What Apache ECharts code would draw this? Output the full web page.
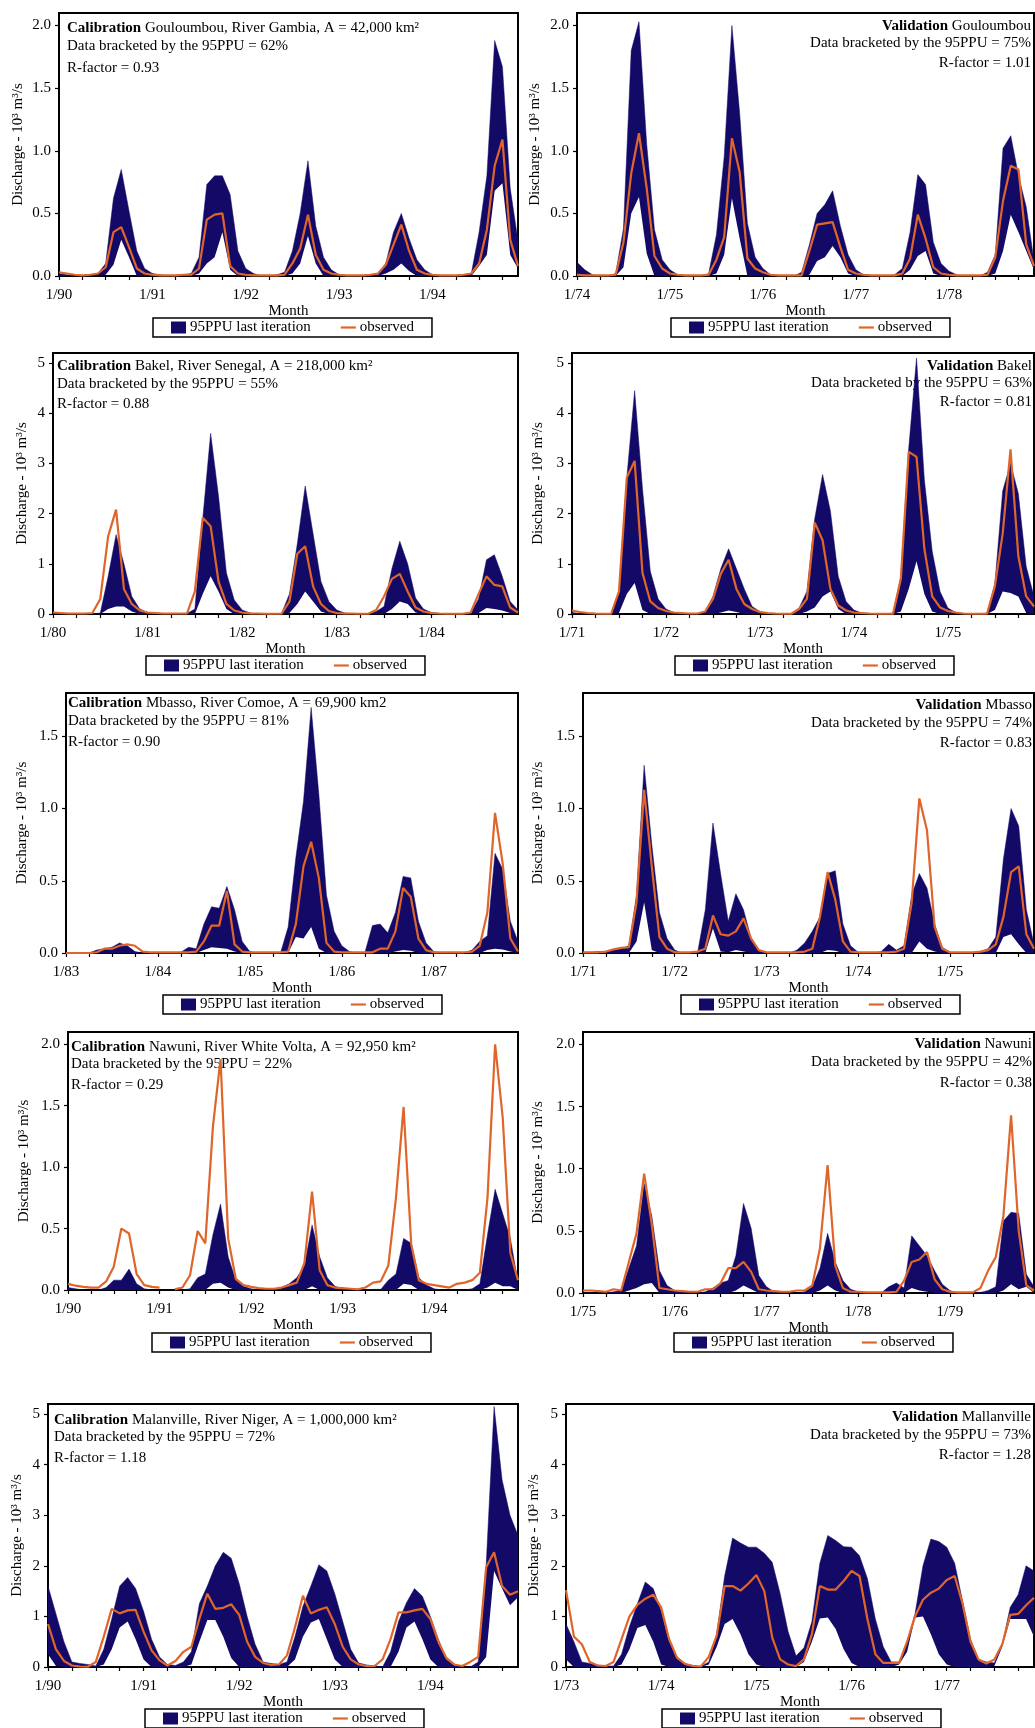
<!DOCTYPE html>
<html>
<head>
<meta charset="utf-8">
<script src="https://cdn.jsdelivr.net/npm/echarts@6/dist/echarts.min.js"></script>
<style>
  html, body { margin: 0; padding: 0; background: #fff; }
  #chart { width: 1035px; height: 1728px; }
</style>
</head>
<body>
<div id="chart"></div>
<script>
// monthly discharge, 10^3 m3/s, 60 months per panel
// Gouloumbou, River Gambia
const gouCalObs = [0.03,0.02,0.01,0.005,0.01,0.02,0.07,0.35,0.39,0.23,0.06,0.02,
  0.01,0.005,0.005,0.005,0.01,0.01,0.06,0.45,0.49,0.50,0.08,0.02,
  0.01,0.005,0.005,0.005,0.005,0.01,0.10,0.22,0.49,0.17,0.05,0.02,
  0.01,0.005,0.005,0.005,0.01,0.02,0.09,0.25,0.41,0.20,0.05,0.02,
  0.01,0.005,0.005,0.005,0.01,0.02,0.10,0.37,0.88,1.09,0.29,0.08]
const gouCalUp = [0.02,0.01,0,0,0.01,0.02,0.10,0.62,0.85,0.52,0.20,0.06,
  0.02,0.01,0,0,0.01,0.02,0.15,0.73,0.80,0.80,0.65,0.20,
  0.06,0.02,0,0,0.01,0.03,0.20,0.50,0.92,0.40,0.15,0.05,
  0.01,0,0,0,0.01,0.01,0.10,0.35,0.50,0.30,0.13,0.05,
  0.01,0,0,0,0.01,0.02,0.35,0.80,1.88,1.67,0.70,0.28]
const gouCalLo = [0,0,0,0,0,0,0.01,0.09,0.29,0.15,0,0,
  0,0,0,0,0,0,0.02,0.10,0.15,0.35,0.05,0,
  0,0,0,0,0,0,0.02,0.10,0.32,0.10,0,0,
  0,0,0,0,0,0,0.02,0.05,0.10,0.04,0,0,
  0,0,0,0,0,0,0.08,0.17,0.68,0.74,0.17,0.06]
const gouValObs = [0.01,0.005,0.005,0.005,0.005,0.01,0.27,0.82,1.14,0.70,0.16,0.06,
  0.02,0.01,0.005,0.005,0.005,0.01,0.13,0.31,1.10,0.83,0.14,0.06,
  0.03,0.01,0.005,0.005,0.005,0.005,0.20,0.41,0.42,0.43,0.23,0.05,
  0.02,0.01,0.005,0.005,0.005,0.005,0.02,0.14,0.49,0.30,0.07,0.02,
  0.01,0.005,0.005,0.005,0.005,0.01,0.15,0.60,0.88,0.85,0.25,0.08]
const gouValUp = [0.11,0.05,0.01,0,0,0.02,0.38,1.80,2.03,1.05,0.37,0.13,
  0.05,0.01,0,0,0,0.02,0.33,0.95,2.00,1.30,0.42,0.15,
  0.06,0.01,0,0,0,0.03,0.25,0.50,0.57,0.68,0.40,0.17,
  0.05,0.01,0,0,0,0.01,0.06,0.35,0.81,0.73,0.27,0.10,
  0.04,0.01,0,0,0,0.03,0.17,1.02,1.12,0.80,0.55,0.12]
const gouValLo = [0,0,0,0,0,0,0.07,0.50,0.63,0.18,0,0,
  0,0,0,0,0,0,0.02,0.17,0.62,0.30,0,0,
  0,0,0,0,0,0,0.01,0.12,0.15,0.24,0.15,0.02,
  0,0,0,0,0,0,0,0.05,0.16,0.20,0.02,0,
  0,0,0,0,0,0,0.02,0.20,0.49,0.35,0.20,0.05]

// Bakel, River Senegal
const bakCalObs = [0.03,0.02,0.01,0.01,0.01,0.02,0.30,1.55,2.08,0.50,0.20,0.07,
  0.03,0.02,0.01,0.01,0.01,0.01,0.45,1.92,1.75,0.65,0.20,0.07,
  0.03,0.01,0.01,0.005,0.005,0.005,0.25,1.20,1.35,0.55,0.20,0.06,
  0.02,0.01,0.01,0.005,0.005,0.08,0.35,0.70,0.80,0.45,0.13,0.05,
  0.02,0.01,0.005,0.005,0.005,0.03,0.40,0.75,0.58,0.55,0.13,0.03]
const bakCalUp = [0.01,0,0,0,0,0,0.02,0.75,1.58,1.00,0.35,0.10,
  0.03,0.01,0,0,0,0.01,0.10,1.90,3.60,2.35,0.82,0.28,
  0.08,0.02,0,0,0,0.01,0.40,1.40,2.55,1.60,0.65,0.25,
  0.08,0.02,0,0,0,0.05,0.15,0.90,1.45,1.00,0.32,0.10,
  0.03,0.01,0,0,0,0.02,0.30,1.08,1.18,0.75,0.25,0.08]
const bakCalLo = [0,0,0,0,0,0,0,0.10,0.15,0.15,0.05,0,
  0,0,0,0,0,0,0,0.40,0.75,0.45,0.10,0,
  0,0,0,0,0,0,0.02,0.20,0.45,0.25,0.05,0,
  0,0,0,0,0,0,0,0.10,0.25,0.20,0.03,0,
  0,0,0,0,0,0,0.02,0.12,0.10,0.07,0.02,0]
const bakValObs = [0.07,0.04,0.02,0.01,0.005,0.005,0.45,2.72,3.05,0.82,0.25,0.12,
  0.06,0.03,0.02,0.01,0.01,0.05,0.30,0.80,1.08,0.50,0.20,0.10,
  0.04,0.02,0.01,0.005,0.005,0.10,0.30,1.82,1.47,0.50,0.17,0.07,
  0.03,0.02,0.01,0.005,0.005,0.005,0.70,3.23,3.13,1.30,0.35,0.13,
  0.06,0.03,0.01,0.005,0.005,0.005,0.55,1.60,3.28,1.15,0.35,0.15]
const bakValUp = [0.03,0.01,0,0,0,0.01,0.45,2.72,4.45,2.50,0.85,0.30,
  0.10,0.03,0,0,0,0.05,0.35,0.90,1.30,0.90,0.50,0.15,
  0.05,0.01,0,0,0,0.12,0.45,1.90,2.78,2.05,0.75,0.25,
  0.08,0.02,0,0,0,0.02,0.75,3.30,5.10,2.67,1.25,0.45,
  0.12,0.03,0,0,0,0.02,0.60,2.45,3.00,2.40,0.95,0.35]
const bakValLo = [0,0,0,0,0,0,0.02,0.40,0.62,0.08,0,0,
  0,0,0,0,0,0,0,0.03,0.07,0.04,0,0,
  0,0,0,0,0,0,0.05,0.13,0.35,0.45,0.10,0,
  0,0,0,0,0,0,0.05,0.50,1.05,0.40,0.05,0,
  0,0,0,0,0,0,0.08,0.45,0.42,0.35,0.02,0]

// Mbasso, River Comoe
const mbaCalObs = [0,0,0,0,0.005,0.03,0.03,0.05,0.06,0.05,0.01,0.005,
  0.005,0.005,0.005,0.005,0.005,0.01,0.08,0.19,0.19,0.43,0.06,0.01,
  0.005,0.005,0.005,0.005,0.005,0.01,0.20,0.60,0.77,0.52,0.07,0.01,
  0.005,0.005,0.005,0.005,0.005,0.03,0.03,0.15,0.45,0.39,0.10,0.02,
  0.005,0.005,0.005,0.005,0.005,0.01,0.05,0.28,0.97,0.62,0.10,0.01]
const mbaCalUp = [0,0,0,0,0.02,0.03,0.04,0.07,0.05,0.01,0,0,
  0,0,0,0.005,0.04,0.03,0.20,0.32,0.31,0.46,0.30,0.08,
  0.01,0,0,0,0,0.18,0.66,1.05,1.70,1.10,0.40,0.15,
  0.05,0.01,0,0,0.19,0.20,0.14,0.28,0.53,0.52,0.22,0.07,
  0.01,0,0,0,0,0.02,0.08,0.12,0.69,0.58,0.22,0.08]
const mbaCalLo = [0,0,0,0,0,0,0,0,0,0,0,0,
  0,0,0,0,0,0,0.02,0.04,0.035,0.03,0.01,0,
  0,0,0,0,0,0,0.11,0.10,0.18,0.03,0,0,
  0,0,0,0,0,0,0,0.01,0.02,0.015,0,0,
  0,0,0,0,0,0,0,0.02,0.03,0.025,0.01,0]
const mbaValObs = [0.005,0.005,0.005,0.01,0.025,0.035,0.04,0.35,1.13,0.60,0.11,0.03,
  0.005,0.005,0.005,0.01,0.03,0.26,0.13,0.12,0.15,0.24,0.10,0.02,
  0.005,0.005,0.005,0.005,0.005,0.01,0.03,0.25,0.56,0.37,0.08,0.01,
  0.005,0.005,0.005,0.005,0.005,0.01,0.03,0.35,1.07,0.85,0.18,0.03,
  0.005,0.005,0.005,0.005,0.01,0.02,0.06,0.25,0.56,0.60,0.13,0.03]
const mbaValUp = [0.005,0.005,0.01,0.01,0.02,0.03,0.05,0.40,1.30,0.75,0.28,0.10,
  0.02,0,0,0.005,0.30,0.90,0.55,0.22,0.41,0.30,0.10,0.02,
  0,0,0,0,0.02,0.07,0.15,0.25,0.55,0.57,0.20,0.05,
  0.005,0,0,0.01,0.06,0.02,0.05,0.40,0.55,0.45,0.20,0.04,
  0.005,0,0,0,0.01,0.03,0.11,0.65,1.00,0.88,0.30,0.06]
const mbaValLo = [0,0,0,0,0,0,0,0.08,0.35,0.02,0,0,
  0,0,0,0,0,0.17,0.01,0.005,0.02,0.01,0,0,
  0,0,0,0,0,0,0,0,0.02,0.015,0,0,
  0,0,0,0,0,0,0,0,0.08,0.03,0.01,0,
  0,0,0,0,0,0,0,0.11,0.13,0.06,0,0]

// Nawuni, River White Volta
const nawCalObs = [0.05,0.035,0.025,0.02,0.02,0.07,0.19,0.50,0.46,0.13,0.04,0.025,
  0.02,null,0.005,0.02,0.12,0.48,0.38,1.33,1.88,0.42,0.09,0.04,
  0.025,0.015,0.01,0.01,0.02,0.04,0.06,0.22,0.80,0.16,0.04,0.02,
  0.015,0.01,0.005,0.02,0.06,0.07,0.20,0.75,1.49,0.37,0.08,0.05,
  0.04,0.03,0.02,0.05,0.06,0.08,0.14,0.75,2.00,1.40,0.30,0.08]
const nawCalUp = [0.02,0.01,0,0,0,0.02,0.08,0.08,0.17,0.05,0.01,0,
  0,0,0,0,0.01,0.10,0.13,0.45,0.70,0.27,0.08,0.03,
  0.01,0,0,0,0.02,0.05,0.10,0.20,0.53,0.27,0.10,0.03,
  0.01,0,0,0,0.005,0.005,0.08,0.13,0.42,0.38,0.10,0.04,
  0.01,0,0,0,0,0.01,0.05,0.45,0.82,0.62,0.42,0.06]
const nawCalLo = [0,0,0,0,0,0,0,0,0,0,0,0,
  0,0,0,0,0,0,0,0.05,0.06,0.02,0,0,
  0,0,0,0,0,0,0,0,0.03,0,0,0,
  0,0,0,0,0,0,0,0,0.05,0.04,0,0,
  0,0,0,0,0,0,0,0.02,0.06,0.03,0.03,0]
const nawValObs = [0.02,0.02,0.015,0.01,0.03,0.02,0.25,0.48,0.96,0.55,0.04,0.03,
  0.02,0.015,0.01,0.01,0.03,0.03,0.08,0.20,0.20,0.25,0.17,0.03,
  0.02,0.015,0.01,0.01,0.02,0.02,0.06,0.36,1.03,0.22,0.04,0.01,
  0.01,0.005,0.005,0.005,0.005,0.01,0.10,0.25,0.27,0.33,0.11,0.03,
  0.01,0.005,0.005,0.005,0.04,0.18,0.29,0.62,1.43,0.50,0.06,0.02]
const nawValUp = [0,0,0,0,0.01,0.02,0.20,0.38,0.88,0.62,0.18,0.06,
  0.02,0.01,0,0,0.01,0.04,0.08,0.10,0.30,0.72,0.52,0.14,
  0.05,0.01,0,0,0,0.01,0.05,0.20,0.48,0.25,0.10,0.03,
  0.01,0,0,0,0.05,0.08,0.04,0.46,0.38,0.30,0.18,0.07,
  0.02,0,0,0,0.005,0.02,0.05,0.58,0.65,0.64,0.15,0.05]
const nawValLo = [0,0,0,0,0,0,0.02,0.04,0.07,0.08,0,0,
  0,0,0,0,0,0,0,0,0.02,0.06,0.03,0,
  0,0,0,0,0,0,0,0.02,0.06,0.02,0,0,
  0,0,0,0,0,0,0,0.04,0.02,0.01,0,0,
  0,0,0,0,0,0,0,0.02,0.07,0.03,0.05,0]

// Malanville, River Niger
const malCalObs = [0.85,0.35,0.12,0.03,0.01,0.005,0.10,0.60,1.15,1.06,1.12,1.13,
  0.70,0.33,0.13,0.03,0.12,0.30,0.40,0.95,1.45,1.15,1.17,1.24,
  1.03,0.50,0.20,0.08,0.04,0.05,0.23,0.78,1.41,1.06,1.13,1.18,
  0.85,0.40,0.15,0.05,0.02,0.02,0.15,0.55,1.08,1.08,1.12,1.15,
  0.95,0.50,0.18,0.05,0.02,0.10,0.20,1.97,2.27,1.60,1.43,1.50]
const malCalUp = [1.60,1.05,0.50,0.10,0.07,0.05,0.02,0.35,0.95,1.60,1.77,1.55,
  1.10,0.55,0.20,0.05,0.03,0.10,0.30,1.25,1.60,2.00,2.27,2.15,
  1.65,1.00,0.45,0.10,0.07,0.05,0.10,0.60,1.20,1.60,2.02,1.90,
  1.45,0.90,0.35,0.08,0.04,0.02,0,0.30,0.90,1.27,1.55,1.40,
  1.00,0.55,0.15,0.03,0,0,0.10,2.00,5.15,3.70,3.00,2.60]
const malCalLo = [0.25,0.02,0,0,0,0,0,0.05,0.35,0.78,0.90,0.55,
  0.15,0,0,0,0,0,0.05,0.50,0.93,0.93,0.60,0.18,
  0,0,0,0,0,0,0,0.15,0.60,0.88,0.95,0.55,
  0.15,0,0,0,0,0,0,0,0.30,0.78,0.90,0.55,
  0.15,0,0,0,0,0,0,0.20,1.90,1.55,1.22,1.38]
const malValObs = [1.52,0.60,0.45,0.10,0.03,0.02,0.10,0.55,1.00,1.23,1.35,1.43,
  1.18,0.55,0.18,0.06,0.02,0.01,0.20,0.62,1.60,1.60,1.51,1.65,
  1.82,1.50,0.58,0.15,0.05,0.02,0.15,0.65,1.60,1.53,1.53,1.70,
  1.90,1.80,0.95,0.25,0.08,0.08,0.08,0.50,1.00,1.33,1.47,1.55,
  1.72,1.80,1.25,0.50,0.15,0.07,0.15,0.45,1.03,1.05,1.22,1.37]
const malValUp = [0.85,0.50,0.10,0.07,0.04,0.02,0.02,0.25,0.80,1.25,1.68,1.55,
  1.10,0.50,0.20,0.07,0.03,0.01,0.10,0.65,1.80,2.55,2.45,2.37,
  2.37,2.25,2.07,1.45,0.70,0.22,0.38,0.90,2.05,2.60,2.50,2.38,
  2.37,2.20,1.75,0.95,0.40,0.10,0.10,0.50,1.05,2.00,2.53,2.48,
  2.37,2.05,1.30,0.55,0.15,0.10,0.08,0.45,1.18,1.43,2.00,1.90]
const malValLo = [0.15,0,0,0,0,0,0,0.05,0.35,0.77,0.83,0.50,
  0.05,0,0,0,0,0,0.05,0.40,0.85,0.95,0.65,0.25,
  0.05,0,0,0,0,0,0.10,0.50,0.96,0.98,0.75,0.35,
  0.08,0,0,0,0,0,0.05,0.30,0.98,1.00,0.65,0.25,
  0.05,0,0,0,0,0,0.02,0.40,0.95,0.95,0.95,0.60]

// first year of each panel (x axis runs 1/yy .. 12/yy+4)
const startYears = [90, 74, 80, 71, 83, 71, 90, 75, 90, 73]

const annotations = [
  ['{b|Calibration} Gouloumbou, River Gambia, A = 42,000 km²', 'Data bracketed by the 95PPU = 62%', 'R-factor = 0.93'],
  ['{b|Validation} Gouloumbou', 'Data bracketed by the 95PPU = 75%', 'R-factor = 1.01'],
  ['{b|Calibration} Bakel, River Senegal, A = 218,000 km²', 'Data bracketed by the 95PPU = 55%', 'R-factor = 0.88'],
  ['{b|Validation} Bakel', 'Data bracketed by the 95PPU = 63%', 'R-factor = 0.81'],
  ['{b|Calibration} Mbasso, River Comoe, A = 69,900 km2', 'Data bracketed by the 95PPU = 81%', 'R-factor = 0.90'],
  ['{b|Validation} Mbasso', 'Data bracketed by the 95PPU = 74%', 'R-factor = 0.83'],
  ['{b|Calibration} Nawuni, River White Volta, A = 92,950 km²', 'Data bracketed by the 95PPU = 22%', 'R-factor = 0.29'],
  ['{b|Validation} Nawuni', 'Data bracketed by the 95PPU = 42%', 'R-factor = 0.38'],
  ['{b|Calibration} Malanville, River Niger, A = 1,000,000 km²', 'Data bracketed by the 95PPU = 72%', 'R-factor = 1.18'],
  ['{b|Validation} Mallanville', 'Data bracketed by the 95PPU = 73%', 'R-factor = 1.28'],
]

const BAND = '#130a68'
const OBS = '#e0652a'
const FONT = 'Liberation Serif'
const FS = 15

// layout of the 10 panels (pixels)
const panels = [
  { obs: gouCalObs, up: gouCalUp, lo: gouCalLo, yMax: 2.1, step: 0.5, dig: 1,
    grid: [59, 13, 459, 263], nameGap: 33, tx: 67, ty: [28, 46, 68], leg: [153, 318] },
  { obs: gouValObs, up: gouValUp, lo: gouValLo, yMax: 2.1, step: 0.5, dig: 1,
    grid: [577, 13, 457, 263], nameGap: 34, tx: 1031, ty: [26, 43, 63], leg: [671, 318] },
  { obs: bakCalObs, up: bakCalUp, lo: bakCalLo, yMax: 5.2, step: 1, dig: 0,
    grid: [53, 353, 465, 261], nameGap: 23, tx: 57, ty: [366, 384, 404], leg: [146, 656] },
  { obs: bakValObs, up: bakValUp, lo: bakValLo, yMax: 5.2, step: 1, dig: 0,
    grid: [572, 353, 462, 261], nameGap: 26, tx: 1032, ty: [366, 383, 402], leg: [675, 656] },
  { obs: mbaCalObs, up: mbaCalUp, lo: mbaCalLo, yMax: 1.8, step: 0.5, dig: 1,
    grid: [66, 693, 452, 260], nameGap: 36, tx: 68, ty: [703, 721, 742], leg: [163, 995] },
  { obs: mbaValObs, up: mbaValUp, lo: mbaValLo, yMax: 1.8, step: 0.5, dig: 1,
    grid: [583, 693, 451, 260], nameGap: 37, tx: 1032, ty: [705, 723, 743], leg: [681, 995] },
  { obs: nawCalObs, up: nawCalUp, lo: nawCalLo, yMax: 2.1, step: 0.5, dig: 1,
    grid: [68, 1032, 450, 258], nameGap: 36, tx: 71, ty: [1047, 1064, 1085], leg: [152, 1333] },
  { obs: nawValObs, up: nawValUp, lo: nawValLo, yMax: 2.1, step: 0.5, dig: 1,
    grid: [583, 1032, 451, 261], nameGap: 37, tx: 1032, ty: [1044, 1062, 1083], leg: [674, 1333] },
  { obs: malCalObs, up: malCalUp, lo: malCalLo, yMax: 5.2, step: 1, dig: 0,
    grid: [48, 1404, 470, 263], nameGap: 23, tx: 54, ty: [1420, 1437, 1458], leg: [145, 1709] },
  { obs: malValObs, up: malValUp, lo: malValLo, yMax: 5.2, step: 1, dig: 0,
    grid: [566, 1404, 468, 263], nameGap: 24, tx: 1031, ty: [1417, 1435, 1455], leg: [662, 1709] },
]

function monthLabels(yy) {
  const out = []
  for (let y = 0; y < 5; y++) {
    for (let m = 1; m <= 12; m++) out.push(m + '/' + String((yy + y) % 100).padStart(2, '0'))
  }
  return out
}

const chart = echarts.init(document.getElementById('chart'), null, { renderer: 'canvas' })

const grid = [], xAxis = [], yAxis = [], series = [], legend = [], graphic = []

panels.forEach((p, i) => {
  const [l, t, w, h] = p.grid
  grid.push({ left: l, top: t, width: w, height: h, show: true, borderColor: '#000', borderWidth: 2,
    backgroundColor: 'transparent', outerBoundsMode: 'none' })
  xAxis.push({
    type: 'category', gridIndex: i, data: monthLabels(startYears[i]), boundaryGap: false,
    name: 'Month', nameLocation: 'middle', nameGap: 19,
    nameTextStyle: { fontFamily: FONT, fontSize: FS, color: '#000' },
    axisLine: { lineStyle: { color: '#000', width: 1.5 } },
    axisTick: { interval: 2, length: 4, inside: false, lineStyle: { color: '#000', width: 1.2 } },
    axisLabel: { interval: 11, margin: 12, fontFamily: FONT, fontSize: FS, color: '#000' },
    splitLine: { show: false },
  })
  yAxis.push({
    type: 'value', gridIndex: i, min: 0, max: p.yMax, interval: p.step,
    name: 'Discharge - 10³ m³/s', nameLocation: 'middle', nameGap: p.nameGap,
    nameTextStyle: { fontFamily: FONT, fontSize: FS, color: '#000' },
    axisLine: { show: true, lineStyle: { color: '#000', width: 1.5 } },
    axisTick: { show: true, length: 4, lineStyle: { color: '#000', width: 1.2 } },
    axisLabel: { showMaxLabel: false, margin: 8, fontFamily: FONT, fontSize: FS, color: '#000',
      formatter: (v) => v.toFixed(p.dig) },
    splitLine: { show: false },
  })
  // 95PPU band = lower bound + (upper - lower) stacked
  series.push({
    name: 'lower' + i, type: 'line', xAxisIndex: i, yAxisIndex: i, stack: 'ppu' + i,
    data: p.lo, symbol: 'none', lineStyle: { opacity: 0, width: 0 }, silent: true, z: 1,
  })
  series.push({
    name: '95PPU last iteration', type: 'line', xAxisIndex: i, yAxisIndex: i, stack: 'ppu' + i,
    data: p.up.map((u, k) => +(u - p.lo[k]).toFixed(3)), symbol: 'none',
    lineStyle: { width: 0.5, color: BAND }, itemStyle: { color: BAND },
    areaStyle: { color: BAND, opacity: 1 }, z: 2,
  })
  series.push({
    name: 'observed', type: 'line', xAxisIndex: i, yAxisIndex: i, data: p.obs,
    symbol: 'none', showSymbol: false, lineStyle: { width: 2.2, color: OBS }, itemStyle: { color: OBS }, z: 3,
  })
  legend.push({
    left: p.leg[0], top: p.leg[1], orient: 'horizontal', selectedMode: false,
    borderColor: '#000', borderWidth: 1.5, padding: [2, 18, 2, 18], itemGap: 30,
    itemWidth: 15, itemHeight: 12,
    textStyle: { fontFamily: FONT, fontSize: FS, color: '#000', padding: [0, 0, 0, -1] },
    data: [
      { name: '95PPU last iteration', icon: 'rect' },
      { name: 'observed', icon: 'path://M0,0M15,0M15,12M0,12M0,4.9L15,4.9L15,7.1L0,7.1Z' },
    ],
  })
  const right = i % 2 === 1
  annotations[i].forEach((txt, k) => {
    graphic.push({
      type: 'text', z: 0, x: p.tx, y: p.ty[k],
      style: {
        text: txt, fontFamily: FONT, fontSize: FS, fill: '#000',
        align: right ? 'right' : 'left', verticalAlign: 'middle',
        rich: { b: { fontWeight: 'bold', fontFamily: FONT, fontSize: FS } },
      },
    })
  })
})

chart.setOption({
  animation: false,
  backgroundColor: '#fff',
  grid, xAxis, yAxis, series, legend, graphic,
})
</script>
</body>
</html>
